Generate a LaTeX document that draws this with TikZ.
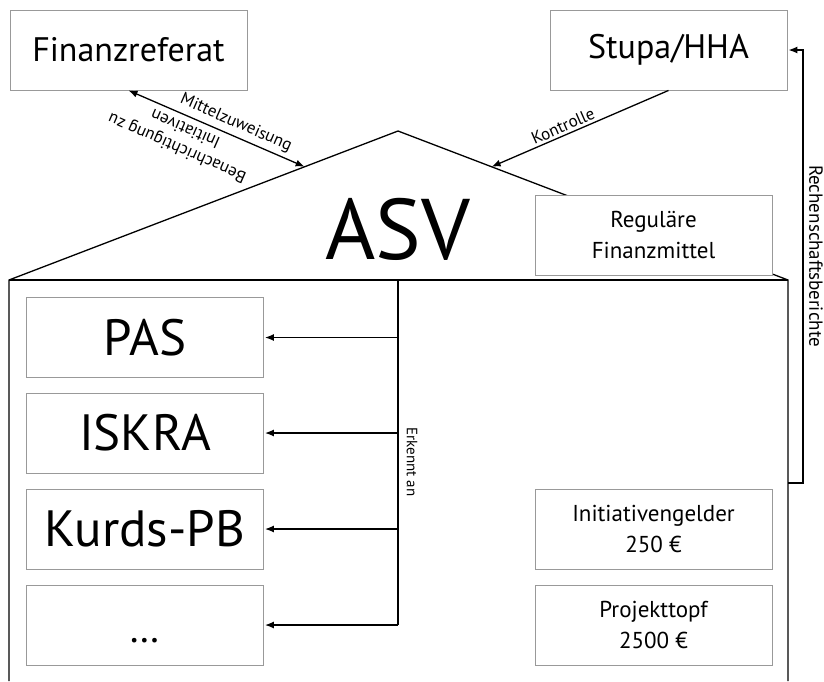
\documentclass[tikz,border=0pt]{standalone}
\usepackage{fontspec}
\setmainfont{PT Sans}
\usepackage{tikz}
\usetikzlibrary{arrows.meta,calc}
\newcommand{\fsz}[2]{\fontsize{#1}{#2}\selectfont}

\begin{document}
\begin{tikzpicture}[x=1pt, y=-1pt]
\tikzstyle{box}=[rectangle, draw=black!40, line width=0.9pt, fill=white, minimum width=237pt, minimum height=80pt, inner sep=0pt, align=center]
\tikzstyle{member}=[box, font=\fsz{51}{58}]
\tikzstyle{fund}=[box, font=\fsz{23}{31}]
\tikzstyle{outer}=[box, font=\fsz{34}{40}]
\tikzstyle{wall}=[line width=1.3pt]
\tikzstyle{connect}=[-{Latex[length=9pt,width=7pt]}, line width=1.3pt]
\tikzstyle{lbl}=[font=\fsz{17}{21}, inner sep=1.5pt, align=center]

  \useasboundingbox (0,0) rectangle (824,681);

  % house
  \coordinate (eaveL) at (9,280);
  \coordinate (eaveR) at (788,280);
  \coordinate (apex)  at (398,131);
  \coordinate (hitL)  at ($(eaveL)!0.76!(apex)$);
  \coordinate (hitR)  at ($(eaveR)!0.76!(apex)$);
  \coordinate (spine) at (398,280);
  \coordinate (rb)    at (788,483);

  \draw[wall] (9,681) -- (eaveL) -- (apex) -- (eaveR) -- (788,681);
  \draw[wall] (eaveL) -- (eaveR);
  \node[font=\fsz{86}{92}] (asv) at (398,229) {ASV};

  % outside
  \node[outer] (fin)   at (128.5,50) {Finanzreferat};
  \node[outer] (stupa) at (668.5,50) {Stupa/HHA};
  \node[fund]  (reg)   at (653.5,235) {Reguläre\\Finanzmittel};

  % inside
  \node[member] (pas)   at (145,337.5) {PAS};
  \node[member] (iskra) at (145,433)   {ISKRA};
  \node[member] (kurds) at (145,529)   {Kurds-PB};
  \node[member] (dots)  at (145,625)   {\vphantom{Kurds}{\fsz{40}{40}…}};
  \node[fund]   (init)  at (653.5,529) {Initiativengelder\\250 €};
  \node[fund]   (proj)  at (653.5,625) {Projekttopf\\2500 €};

  \draw[connect, {Latex[length=9pt,width=7pt]}-{Latex[length=9pt,width=7pt]}] (fin.south) -- (hitL);
  \node[lbl, rotate=-23.7] (mittel) at (236,123) {Mittelzuweisung};
  \node[lbl, rotate=156.3] (benach) at (181,139) {Benachrichtigung zu\\Initiativen};
  \draw[connect, {Latex[length=9pt,width=7pt]}-] (hitR) -- (stupa.south);
  \node[lbl, rotate=23.7] (kontr) at (563,126) {Kontrolle};

  \draw[wall] (spine) -- (spine |- dots.east);
  \node[lbl, font=\fsz{15}{18}, rotate=-90] (erk) at (412,462) {Erkennt an};
  \foreach \n in {pas,iskra,kurds,dots}
    \draw[connect] (spine |- \n.east) -- ([xshift=1pt]\n.east);

  \draw[connect] (rb) -- ++(15,0) |- ([xshift=1pt]stupa.east);
  \node[lbl, font=\fsz{19}{22}, rotate=-90] (rech) at (816,256) {Rechenschaftsberichte};

\end{tikzpicture}
\end{document}
